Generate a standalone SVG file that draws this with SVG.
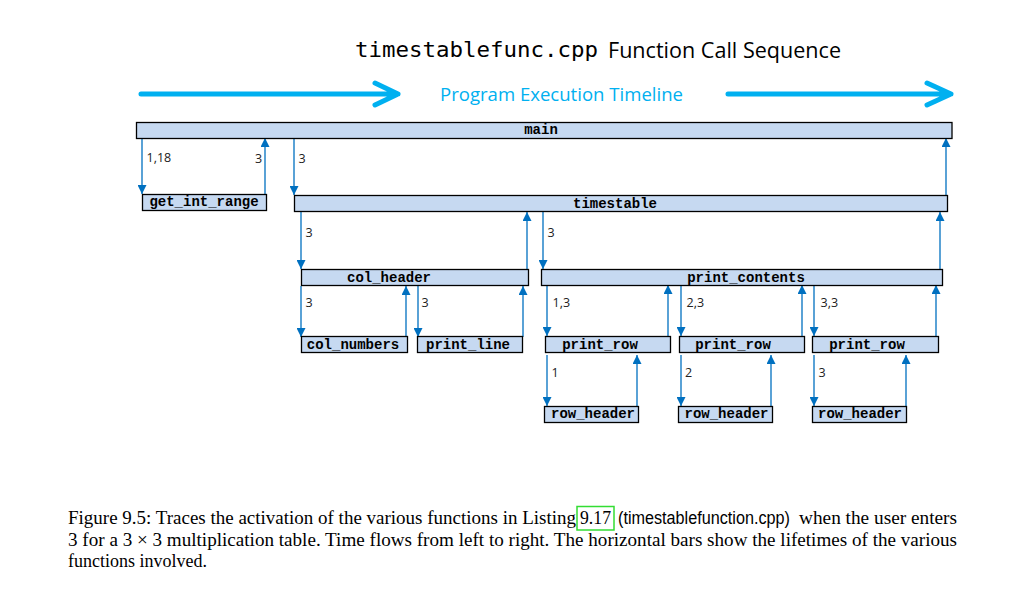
<svg xmlns="http://www.w3.org/2000/svg" width="1024" height="599" viewBox="0 0 1024 599">
<style>
.bar{fill:#C6D9F1;stroke:#000;stroke-width:1.3}
.fn{font-family:"Liberation Mono",monospace;font-weight:bold;font-size:14px;fill:#000;text-anchor:middle}
.lbl{font-family:"Open Sans","Liberation Sans",sans-serif;font-size:12.5px;fill:#222}
.c{stroke:#0070C0;stroke-width:1.3;fill:none;marker-end:url(#ah)}
.tl{stroke:#00B0F0;stroke-width:5;fill:none;stroke-linecap:round;stroke-linejoin:round}
.cap{font-family:"Liberation Serif",serif;font-size:18.5px;fill:#000}
</style>
<defs>
<marker id="ah" viewBox="0 0 10 10" refX="10" refY="5" markerWidth="9" markerHeight="9" markerUnits="userSpaceOnUse" orient="auto">
<path d="M0,0 L10,5 L0,10 z" fill="#0070C0"/>
</marker>
</defs>
<rect width="1024" height="599" fill="#fff"/>

<g id="title">
<text x="355" y="57" font-family="DejaVu Sans Mono,monospace" font-size="22" textLength="243" lengthAdjust="spacingAndGlyphs" fill="#000">timestablefunc.cpp</text>
<text x="608" y="58" font-family="Open Sans,Liberation Sans,sans-serif" font-size="21" textLength="233" lengthAdjust="spacingAndGlyphs" fill="#000">Function Call Sequence</text>
</g>

<g id="timeline">
<path class="tl" d="M141,94 L398,94 M375,83 L398,94 L375,105"/>
<path class="tl" d="M728,94 L951,94 M927,83 L951,94 L927,105"/>
<text x="440" y="101" font-family="Open Sans,Liberation Sans,sans-serif" font-size="18" textLength="243" lengthAdjust="spacingAndGlyphs" fill="#00B0F0">Program Execution Timeline</text>
</g>

<g id="connectors">
<line class="c" x1="142" y1="138" x2="142" y2="194"/>
<line class="c" x1="265" y1="194" x2="265" y2="138"/>
<line class="c" x1="294" y1="138" x2="294" y2="195"/>
<line class="c" x1="946" y1="195" x2="946" y2="138"/>
<line class="c" x1="301" y1="212" x2="301" y2="269"/>
<line class="c" x1="527" y1="269" x2="527" y2="212"/>
<line class="c" x1="543" y1="212" x2="543" y2="269"/>
<line class="c" x1="940" y1="269" x2="940" y2="212"/>
<line class="c" x1="301" y1="286" x2="301" y2="337"/>
<line class="c" x1="406" y1="337" x2="406" y2="286"/>
<line class="c" x1="418" y1="286" x2="418" y2="337"/>
<line class="c" x1="523" y1="337" x2="523" y2="286"/>
<line class="c" x1="547" y1="285" x2="547" y2="336"/>
<line class="c" x1="668" y1="336" x2="668" y2="285"/>
<line class="c" x1="681" y1="285" x2="681" y2="336"/>
<line class="c" x1="802" y1="336" x2="802" y2="285"/>
<line class="c" x1="814" y1="285" x2="814" y2="336"/>
<line class="c" x1="936" y1="336" x2="936" y2="285"/>
<line class="c" x1="547" y1="355" x2="547" y2="406"/>
<line class="c" x1="637" y1="406" x2="637" y2="355"/>
<line class="c" x1="681" y1="355" x2="681" y2="406"/>
<line class="c" x1="771" y1="406" x2="771" y2="355"/>
<line class="c" x1="814" y1="355" x2="814" y2="406"/>
<line class="c" x1="906" y1="406" x2="906" y2="355"/>
<text class="lbl" x="146.5" y="161.5">1,18</text>
<text class="lbl" x="255" y="162.5">3</text>
<text class="lbl" x="298.5" y="163">3</text>
<text class="lbl" x="305.5" y="236.5">3</text>
<text class="lbl" x="547.5" y="236.5">3</text>
<text class="lbl" x="305.5" y="306.5">3</text>
<text class="lbl" x="421.5" y="306.5">3</text>
<text class="lbl" x="552.5" y="307">1,3</text>
<text class="lbl" x="686.5" y="307">2,3</text>
<text class="lbl" x="820.5" y="307">3,3</text>
<text class="lbl" x="551.5" y="377">1</text>
<text class="lbl" x="685" y="377">2</text>
<text class="lbl" x="818.5" y="377">3</text>
</g>

<g id="main"><rect class="bar" x="136.5" y="122.5" width="815.5" height="16"/><text class="fn" x="541" y="133.5">main</text></g>
<g id="get_int_range"><rect class="bar" x="142.5" y="194.5" width="124" height="16"/><text class="fn" x="204" y="206">get_int_range</text></g>
<g id="timestable"><rect class="bar" x="294.5" y="195.5" width="653" height="16"/><text class="fn" x="615" y="207.5">timestable</text></g>
<g id="col_header"><rect class="bar" x="301.5" y="269.5" width="227" height="16"/><text class="fn" x="389" y="281.5">col_header</text></g>
<g id="print_contents"><rect class="bar" x="541.5" y="269.5" width="401" height="16"/><text class="fn" x="746" y="281.5">print_contents</text></g>
<g id="col_numbers"><rect class="bar" x="301.5" y="336.5" width="106" height="16"/><text class="fn" x="353" y="348.5">col_numbers</text></g>
<g id="print_line"><rect class="bar" x="417.5" y="336.5" width="105" height="16"/><text class="fn" x="468" y="348.5">print_line</text></g>
<g id="print_row_1"><rect class="bar" x="545.5" y="336.5" width="125" height="16"/><text class="fn" x="600" y="348.5">print_row</text></g>
<g id="print_row_2"><rect class="bar" x="679.5" y="336.5" width="125" height="16"/><text class="fn" x="733" y="348.5">print_row</text></g>
<g id="print_row_3"><rect class="bar" x="812.5" y="336.5" width="126" height="16"/><text class="fn" x="867" y="348.5">print_row</text></g>
<g id="row_header_1"><rect class="bar" x="544.5" y="406.5" width="94" height="16"/><text class="fn" x="593" y="418">row_header</text></g>
<g id="row_header_2"><rect class="bar" x="678.5" y="406.5" width="94" height="16"/><text class="fn" x="726.5" y="418">row_header</text></g>
<g id="row_header_3"><rect class="bar" x="812.5" y="406.5" width="94" height="16"/><text class="fn" x="860" y="418">row_header</text></g>

<g id="caption">
<text class="cap" x="68" y="523.5" textLength="508" lengthAdjust="spacingAndGlyphs">Figure 9.5: Traces the activation of the various functions in Listing</text>
<rect x="577" y="506.5" width="37" height="23.5" fill="none" stroke="#33DD33" stroke-width="1.5"/>
<text class="cap" x="580" y="523.5" textLength="31" lengthAdjust="spacingAndGlyphs">9.17</text>
<text x="618" y="523.5" font-family="Liberation Sans,sans-serif" font-size="17.5" textLength="172" lengthAdjust="spacingAndGlyphs" fill="#000">(timestablefunction.cpp)</text>
<text class="cap" x="799" y="523.5" textLength="158" lengthAdjust="spacingAndGlyphs">when the user enters</text>
<text class="cap" x="68" y="545.5" textLength="889" lengthAdjust="spacingAndGlyphs">3 for a 3 × 3 multiplication table. Time flows from left to right. The horizontal bars show the lifetimes of the various</text>
<text class="cap" x="68" y="567" textLength="139" lengthAdjust="spacingAndGlyphs">functions involved.</text>
</g>
</svg>
